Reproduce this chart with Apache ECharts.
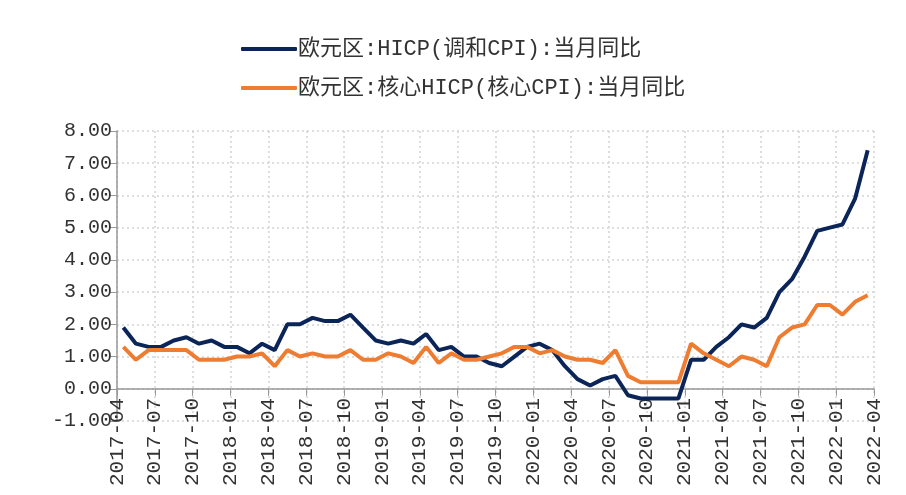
<!DOCTYPE html>
<html>
<head>
<meta charset="utf-8">
<title>欧元区HICP</title>
<script src="https://cdn.jsdelivr.net/npm/echarts@6/dist/echarts.min.js"></script>
<style>
    html, body { margin: 0; padding: 0; background: #fff; }
    #hicp-chart { width: 906px; height: 495px; }
</style>
</head>
<body>
<div id="hicp-chart"></div>
<script>
// 月度数据 2017-04 ~ 2022-03
var tickLabels = ['2017-04', '2017-07', '2017-10', '2018-01', '2018-04', '2018-07', '2018-10',
    '2019-01', '2019-04', '2019-07', '2019-10', '2020-01', '2020-04', '2020-07', '2020-10',
    '2021-01', '2021-04', '2021-07', '2021-10', '2022-01', '2022-04'];
var seriesNames = ['欧元区:HICP(调和CPI):当月同比', '欧元区:核心HICP(核心CPI):当月同比'];
var hicp = [1.9, 1.4, 1.3, 1.3, 1.5, 1.6, 1.4, 1.5, 1.3,
    1.3, 1.1, 1.4, 1.2, 2.0, 2.0, 2.2, 2.1, 2.1, 2.3, 1.9, 1.5,
    1.4, 1.5, 1.4, 1.7, 1.2, 1.3, 1.0, 1.0, 0.8, 0.7, 1.0, 1.3,
    1.4, 1.2, 0.7, 0.3, 0.1, 0.3, 0.4, -0.2, -0.3, -0.3, -0.3, -0.3,
    0.9, 0.9, 1.3, 1.6, 2.0, 1.9, 2.2, 3.0, 3.4, 4.1, 4.9, 5.0,
    5.1, 5.9, 7.4];
var coreHicp = [1.3, 0.9, 1.2, 1.2, 1.2, 1.2, 0.9, 0.9, 0.9,
    1.0, 1.0, 1.1, 0.7, 1.2, 1.0, 1.1, 1.0, 1.0, 1.2, 0.9, 0.9,
    1.1, 1.0, 0.8, 1.3, 0.8, 1.1, 0.9, 0.9, 1.0, 1.1, 1.3, 1.3,
    1.1, 1.2, 1.0, 0.9, 0.9, 0.8, 1.2, 0.4, 0.2, 0.2, 0.2, 0.2,
    1.4, 1.1, 0.9, 0.7, 1.0, 0.9, 0.7, 1.6, 1.9, 2.0, 2.6, 2.6,
    2.3, 2.7, 2.9];
var colors = ['#0b2559', '#ee7d31'];
var yMin = -1, yMax = 8;

var monoFont = '"Liberation Mono", "Noto Sans CJK SC", monospace';

// 每个月的点放在月中(刻度在月初)
function toPoints(arr){
    var pts = [];
    for(var i = 0; i < arr.length; i++){
        pts.push([i + 0.5, arr[i]]);
    }
    return pts;
}

var gridTop = 131, gridBottom = 74, chartH = 495;
// x轴放在0值处(标签也跟着上移)
var zeroOffset = -(chartH - gridTop - gridBottom) / (yMax - yMin) * (0 - yMin);

var hicpChart = echarts.init(document.getElementById('hicp-chart'));
var gridLine = { show: true, lineStyle: { color: '#d4d4d4', width: 1.5, type: [2, 3] } };

var option = {
    animation: false,
    color: colors,
    legend: {
        orient: 'vertical',
        left: 236,
        top: 33,
        itemGap: 17,
        itemWidth: 56,
        itemHeight: 4,
        icon: 'roundRect',
        textStyle: {
            fontFamily: monoFont,
            fontSize: 22,
            color: '#333',
            padding: [0, 0, 0, -4]
        },
        data: seriesNames
    },
    grid: {
        left: 117,
        right: 32,
        top: gridTop,
        bottom: gridBottom,
        outerBoundsMode: 'none'
    },
    xAxis: {
        type: 'value',
        min: 0,
        max: (tickLabels.length - 1) * 3,
        interval: 3,
        offset: zeroOffset,
        axisLine: { show: true, onZero: false, lineStyle: { color: '#999', width: 1.5 } },
        axisTick: { show: true, length: 7, lineStyle: { color: '#999' } },
        axisLabel: {
            rotate: 90,
            margin: 9,
            fontFamily: monoFont,
            fontSize: 21,
            color: '#333',
            formatter: function(v){
                return tickLabels[Math.round(v / 3)];
            }
        },
        splitLine: gridLine
    },
    yAxis: {
        type: 'value',
        min: yMin,
        max: yMax,
        interval: 1,
        axisLine: { show: true, lineStyle: { color: '#999', width: 1.5 } },
        axisTick: { show: true, length: 7, lineStyle: { color: '#999' } },
        axisLabel: {
            margin: 5,
            fontFamily: monoFont,
            fontSize: 20,
            color: '#333',
            formatter: function(v){
                return v.toFixed(2);
            }
        },
        splitLine: gridLine
    },
    series: [{
        name: seriesNames[0],
        type: 'line',
        symbol: 'none',
        lineStyle: { width: 4, color: colors[0] },
        data: toPoints(hicp)
    }, {
        name: seriesNames[1],
        type: 'line',
        symbol: 'none',
        lineStyle: { width: 4, color: colors[1] },
        data: toPoints(coreHicp)
    }]
};
hicpChart.setOption(option);
</script>
</body>
</html>
